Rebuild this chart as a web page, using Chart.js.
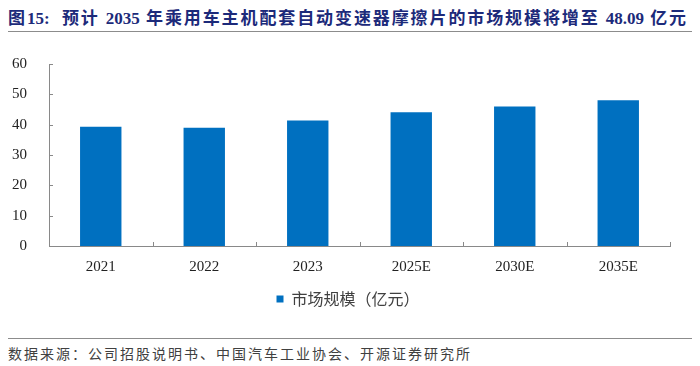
<!DOCTYPE html>
<html>
<head>
<meta charset="utf-8">
<script src="https://cdn.jsdelivr.net/npm/chart.js@4.4.1/dist/chart.umd.min.js"></script>
<style>
    body { margin: 0; background: #fff; width: 700px; height: 366px; position: relative; overflow: hidden; }
    #title {
        position: absolute; left: 8px; top: 4px; white-space: nowrap;
        font-family: "Liberation Serif", "Noto Sans CJK SC", serif;
        font-weight: bold; font-size: 17px; letter-spacing: 1.9px; color: #1c2a7a;
    }
    #title .n { letter-spacing: 0; }
    #titleLine { position: absolute; left: 8px; width: 684px; top: 31px; height: 1px; background: #8c8c8c; }
    #chartBox { position: absolute; left: 0; top: 40px; width: 700px; height: 280px; }
    #sourceLine { position: absolute; left: 8px; width: 684px; top: 338px; height: 1px; background: #8c8c8c; }
    #source {
        position: absolute; left: 8px; top: 343px; white-space: nowrap;
        font-family: "Noto Sans CJK SC", sans-serif; font-size: 14px; letter-spacing: 2px; color: #404040;
    }
</style>
</head>
<body>
<div id="title">图<span class="n">15:</span>&nbsp; 预计 <span class="n">2035</span> 年乘用车主机配套自动变速器摩擦片的市场规模将增至 <span class="n">48.09</span> 亿元</div>
<div id="titleLine"></div>
<div id="chartBox"><canvas id="myChart"></canvas></div>
<div id="sourceLine"></div>
<div id="source">数据来源：公司招股说明书、中国汽车工业协会、开源证券研究所</div>
<script>
const years = ['2021', '2022', '2023', '2025E', '2030E', '2035E'];
const marketSize = [39.3, 39.0, 41.4, 44.1, 46.0, 48.09];
const yTicks = [0, 10, 20, 30, 40, 50, 60];

const AXIS_COLOR = '#898989';

// inside tick marks (ticks point into the plot like the original)
const insideTicks = {
    id: 'insideTicks',
    afterDraw(chart) {
        const ctx = chart.ctx;
        const x = chart.scales.x;
        const y = chart.scales.y;
        ctx.save();
        ctx.strokeStyle = AXIS_COLOR;
        ctx.lineWidth = 1;
        ctx.beginPath();
        yTicks.forEach(v => {
            const py = Math.round(y.getPixelForValue(v)) + 0.5;
            ctx.moveTo(x.left, py);
            ctx.lineTo(x.left + 4, py);
        });
        for (let i = 0; i <= years.length; i++) {
            const px = Math.round(x.getPixelForValue(i - 0.5)) + 0.5;
            ctx.moveTo(px, y.bottom);
            ctx.lineTo(px, y.bottom - 4);
        }
        ctx.stroke();
        ctx.restore();
    }
};

// legend in the original sits a bit right of the canvas centre
const legendShift = {
    id: 'legendShift',
    afterLayout(chart) {
        chart.legend.left += 13;
        chart.legend.right += 13;
    }
};

const ctx = document.getElementById('myChart').getContext('2d');

let marketChart = new Chart(ctx, {
    type: 'bar',
    data: {
        labels: years,
        datasets: [{
            label: '市场规模（亿元）',
            data: marketSize,
            backgroundColor: '#0070C0',
            barPercentage: 0.4,
            categoryPercentage: 1.0
        }]
    },
    options: {
        responsive: true,
        maintainAspectRatio: false,
        animation: false,
        layout: {
            padding: { top: 24, right: 30, bottom: 3, left: 0 }
        },
        plugins: {
            tooltip: { enabled: false },
            legend: {
                position: 'bottom',
                labels: {
                    boxWidth: 7,
                    boxHeight: 7,
                    padding: 10,
                    color: '#404040',
                    font: { family: '"Noto Sans CJK SC", sans-serif', size: 16 }
                }
            }
        },
        scales: {
            x: {
                grid: { display: false },
                border: { color: AXIS_COLOR, width: 1 },
                ticks: {
                    color: '#222',
                    padding: 4,
                    font: { family: '"Liberation Serif", serif', size: 15 }
                },
                afterFit: (scale) => { scale.height = 35; }
            },
            y: {
                min: 0,
                max: 60,
                grid: { display: false },
                border: { color: AXIS_COLOR, width: 1 },
                ticks: {
                    stepSize: 10,
                    color: '#222',
                    padding: 14,
                    font: { family: '"Liberation Serif", serif', size: 15 }
                },
                afterFit: (scale) => { scale.width = 49; }
            }
        }
    },
    plugins: [insideTicks, legendShift]
});
</script>
</body>
</html>
